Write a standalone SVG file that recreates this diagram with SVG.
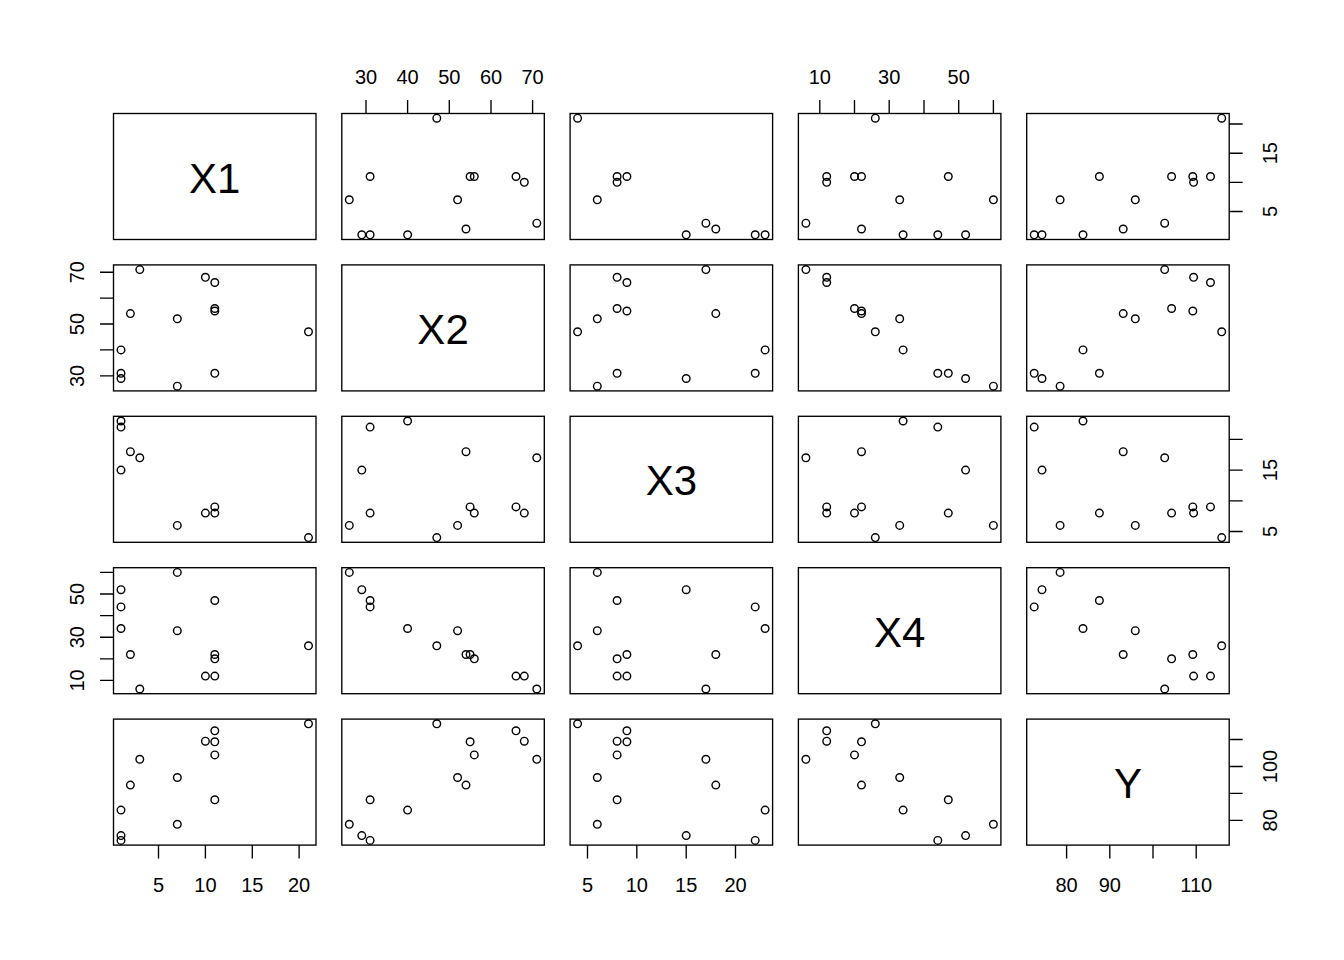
<svg xmlns="http://www.w3.org/2000/svg" width="1344" height="960" viewBox="0 0 1344 960">
<style>
.bg{fill:#fff}
.box{fill:none;stroke:#000;stroke-width:1.35}
.pt circle{fill:none;stroke:#000;stroke-width:1.4}
.tk{stroke:#000;stroke-width:1.35}
.tl{font-family:"Liberation Sans",Arial,sans-serif;font-size:20px;fill:#000;text-anchor:middle}
.dl{font-family:"Liberation Sans",Arial,sans-serif;font-size:42px;fill:#000;text-anchor:middle}
</style>
<rect class="bg" x="0" y="0" width="1344" height="960"/>

<!-- diagonal panels -->
<g id="d1" transform="translate(113.5,113.5)"><rect class="box" width="202.5" height="126"/><text class="dl" x="101.25" y="79">X1</text></g>
<g id="d2" transform="translate(341.8,264.9)"><rect class="box" width="202.5" height="126"/><text class="dl" x="101.25" y="79">X2</text></g>
<g id="d3" transform="translate(570.1,416.3)"><rect class="box" width="202.5" height="126"/><text class="dl" x="101.25" y="79">X3</text></g>
<g id="d4" transform="translate(798.4,567.7)"><rect class="box" width="202.5" height="126"/><text class="dl" x="101.25" y="79">X4</text></g>
<g id="d5" transform="translate(1026.7,719.1)"><rect class="box" width="202.5" height="126"/><text class="dl" x="101.25" y="79">Y</text></g>

<!-- row 1 (y = X1) -->
<g id="p12" class="pt" transform="translate(341.8,113.5)"><rect class="box" width="202.5" height="126"/>
<circle cx="7.5" cy="86.3" r="3.8"/><circle cx="20" cy="121.3" r="3.8"/><circle cx="132.5" cy="63" r="3.8"/><circle cx="28.3" cy="63" r="3.8"/><circle cx="115.8" cy="86.3" r="3.8"/><circle cx="128.3" cy="63" r="3.8"/><circle cx="195" cy="109.7" r="3.8"/><circle cx="28.3" cy="121.3" r="3.8"/><circle cx="124.2" cy="115.5" r="3.8"/><circle cx="95" cy="4.7" r="3.8"/><circle cx="65.8" cy="121.3" r="3.8"/><circle cx="174.2" cy="63" r="3.8"/><circle cx="182.5" cy="68.8" r="3.8"/></g>
<g id="p13" class="pt" transform="translate(570.1,113.5)"><rect class="box" width="202.5" height="126"/>
<circle cx="27.2" cy="86.3" r="3.8"/><circle cx="116.1" cy="121.3" r="3.8"/><circle cx="47" cy="63" r="3.8"/><circle cx="56.8" cy="63" r="3.8"/><circle cx="135.8" cy="109.7" r="3.8"/><circle cx="185.1" cy="121.3" r="3.8"/><circle cx="145.7" cy="115.5" r="3.8"/><circle cx="7.5" cy="4.7" r="3.8"/><circle cx="195" cy="121.3" r="3.8"/><circle cx="47" cy="68.8" r="3.8"/></g>
<g id="p14" class="pt" transform="translate(798.4,113.5)"><rect class="box" width="202.5" height="126"/>
<circle cx="195" cy="86.3" r="3.8"/><circle cx="167.2" cy="121.3" r="3.8"/><circle cx="56.1" cy="63" r="3.8"/><circle cx="149.9" cy="63" r="3.8"/><circle cx="101.3" cy="86.3" r="3.8"/><circle cx="63.1" cy="63" r="3.8"/><circle cx="7.5" cy="109.7" r="3.8"/><circle cx="139.4" cy="121.3" r="3.8"/><circle cx="63.1" cy="115.5" r="3.8"/><circle cx="76.9" cy="4.7" r="3.8"/><circle cx="104.7" cy="121.3" r="3.8"/><circle cx="28.3" cy="63" r="3.8"/><circle cx="28.3" cy="68.8" r="3.8"/></g>
<g id="p15" class="pt" transform="translate(1026.7,113.5)"><rect class="box" width="202.5" height="126"/>
<circle cx="33.4" cy="86.3" r="3.8"/><circle cx="15.3" cy="121.3" r="3.8"/><circle cx="144.9" cy="63" r="3.8"/><circle cx="72.7" cy="63" r="3.8"/><circle cx="108.6" cy="86.3" r="3.8"/><circle cx="166.1" cy="63" r="3.8"/><circle cx="138" cy="109.7" r="3.8"/><circle cx="7.5" cy="121.3" r="3.8"/><circle cx="96.5" cy="115.5" r="3.8"/><circle cx="195" cy="4.7" r="3.8"/><circle cx="56.3" cy="121.3" r="3.8"/><circle cx="183.8" cy="63" r="3.8"/><circle cx="166.9" cy="68.8" r="3.8"/></g>

<!-- row 2 (y = X2) -->
<g id="p21" class="pt" transform="translate(113.5,264.9)"><rect class="box" width="202.5" height="126"/>
<circle cx="63.8" cy="121.3" r="3.8"/><circle cx="7.5" cy="113.6" r="3.8"/><circle cx="101.3" cy="43.6" r="3.8"/><circle cx="101.3" cy="108.4" r="3.8"/><circle cx="63.8" cy="53.9" r="3.8"/><circle cx="101.3" cy="46.1" r="3.8"/><circle cx="26.3" cy="4.7" r="3.8"/><circle cx="7.5" cy="108.4" r="3.8"/><circle cx="16.9" cy="48.7" r="3.8"/><circle cx="195" cy="66.9" r="3.8"/><circle cx="7.5" cy="85" r="3.8"/><circle cx="101.3" cy="17.6" r="3.8"/><circle cx="91.9" cy="12.4" r="3.8"/></g>
<g id="p23" class="pt" transform="translate(570.1,264.9)"><rect class="box" width="202.5" height="126"/>
<circle cx="27.2" cy="121.3" r="3.8"/><circle cx="116.1" cy="113.6" r="3.8"/><circle cx="47" cy="43.6" r="3.8"/><circle cx="47" cy="108.4" r="3.8"/><circle cx="27.2" cy="53.9" r="3.8"/><circle cx="56.8" cy="46.1" r="3.8"/><circle cx="135.8" cy="4.7" r="3.8"/><circle cx="185.1" cy="108.4" r="3.8"/><circle cx="145.7" cy="48.7" r="3.8"/><circle cx="7.5" cy="66.9" r="3.8"/><circle cx="195" cy="85" r="3.8"/><circle cx="56.8" cy="17.6" r="3.8"/><circle cx="47" cy="12.4" r="3.8"/></g>
<g id="p24" class="pt" transform="translate(798.4,264.9)"><rect class="box" width="202.5" height="126"/>
<circle cx="195" cy="121.3" r="3.8"/><circle cx="167.2" cy="113.6" r="3.8"/><circle cx="56.1" cy="43.6" r="3.8"/><circle cx="149.9" cy="108.4" r="3.8"/><circle cx="101.3" cy="53.9" r="3.8"/><circle cx="63.1" cy="46.1" r="3.8"/><circle cx="7.5" cy="4.7" r="3.8"/><circle cx="139.4" cy="108.4" r="3.8"/><circle cx="63.1" cy="48.7" r="3.8"/><circle cx="76.9" cy="66.9" r="3.8"/><circle cx="104.7" cy="85" r="3.8"/><circle cx="28.3" cy="17.6" r="3.8"/><circle cx="28.3" cy="12.4" r="3.8"/></g>
<g id="p25" class="pt" transform="translate(1026.7,264.9)"><rect class="box" width="202.5" height="126"/>
<circle cx="33.4" cy="121.3" r="3.8"/><circle cx="15.3" cy="113.6" r="3.8"/><circle cx="144.9" cy="43.6" r="3.8"/><circle cx="72.7" cy="108.4" r="3.8"/><circle cx="108.6" cy="53.9" r="3.8"/><circle cx="166.1" cy="46.1" r="3.8"/><circle cx="138" cy="4.7" r="3.8"/><circle cx="7.5" cy="108.4" r="3.8"/><circle cx="96.5" cy="48.7" r="3.8"/><circle cx="195" cy="66.9" r="3.8"/><circle cx="56.3" cy="85" r="3.8"/><circle cx="183.8" cy="17.6" r="3.8"/><circle cx="166.9" cy="12.4" r="3.8"/></g>

<!-- row 3 (y = X3) -->
<g id="p31" class="pt" transform="translate(113.5,416.3)"><rect class="box" width="202.5" height="126"/>
<circle cx="63.8" cy="109.1" r="3.8"/><circle cx="7.5" cy="53.8" r="3.8"/><circle cx="101.3" cy="96.8" r="3.8"/><circle cx="101.3" cy="90.6" r="3.8"/><circle cx="26.3" cy="41.5" r="3.8"/><circle cx="7.5" cy="10.8" r="3.8"/><circle cx="16.9" cy="35.4" r="3.8"/><circle cx="195" cy="121.3" r="3.8"/><circle cx="7.5" cy="4.7" r="3.8"/><circle cx="91.9" cy="96.8" r="3.8"/></g>
<g id="p32" class="pt" transform="translate(341.8,416.3)"><rect class="box" width="202.5" height="126"/>
<circle cx="7.5" cy="109.1" r="3.8"/><circle cx="20" cy="53.8" r="3.8"/><circle cx="132.5" cy="96.8" r="3.8"/><circle cx="28.3" cy="96.8" r="3.8"/><circle cx="115.8" cy="109.1" r="3.8"/><circle cx="128.3" cy="90.6" r="3.8"/><circle cx="195" cy="41.5" r="3.8"/><circle cx="28.3" cy="10.8" r="3.8"/><circle cx="124.2" cy="35.4" r="3.8"/><circle cx="95" cy="121.3" r="3.8"/><circle cx="65.8" cy="4.7" r="3.8"/><circle cx="174.2" cy="90.6" r="3.8"/><circle cx="182.5" cy="96.8" r="3.8"/></g>
<g id="p34" class="pt" transform="translate(798.4,416.3)"><rect class="box" width="202.5" height="126"/>
<circle cx="195" cy="109.1" r="3.8"/><circle cx="167.2" cy="53.8" r="3.8"/><circle cx="56.1" cy="96.8" r="3.8"/><circle cx="149.9" cy="96.8" r="3.8"/><circle cx="101.3" cy="109.1" r="3.8"/><circle cx="63.1" cy="90.6" r="3.8"/><circle cx="7.5" cy="41.5" r="3.8"/><circle cx="139.4" cy="10.8" r="3.8"/><circle cx="63.1" cy="35.4" r="3.8"/><circle cx="76.9" cy="121.3" r="3.8"/><circle cx="104.7" cy="4.7" r="3.8"/><circle cx="28.3" cy="90.6" r="3.8"/><circle cx="28.3" cy="96.8" r="3.8"/></g>
<g id="p35" class="pt" transform="translate(1026.7,416.3)"><rect class="box" width="202.5" height="126"/>
<circle cx="33.4" cy="109.1" r="3.8"/><circle cx="15.3" cy="53.8" r="3.8"/><circle cx="144.9" cy="96.8" r="3.8"/><circle cx="72.7" cy="96.8" r="3.8"/><circle cx="108.6" cy="109.1" r="3.8"/><circle cx="166.1" cy="90.6" r="3.8"/><circle cx="138" cy="41.5" r="3.8"/><circle cx="7.5" cy="10.8" r="3.8"/><circle cx="96.5" cy="35.4" r="3.8"/><circle cx="195" cy="121.3" r="3.8"/><circle cx="56.3" cy="4.7" r="3.8"/><circle cx="183.8" cy="90.6" r="3.8"/><circle cx="166.9" cy="96.8" r="3.8"/></g>

<!-- row 4 (y = X4) -->
<g id="p41" class="pt" transform="translate(113.5,567.7)"><rect class="box" width="202.5" height="126"/>
<circle cx="63.8" cy="4.7" r="3.8"/><circle cx="7.5" cy="22" r="3.8"/><circle cx="101.3" cy="91.1" r="3.8"/><circle cx="101.3" cy="32.8" r="3.8"/><circle cx="63.8" cy="63" r="3.8"/><circle cx="101.3" cy="86.8" r="3.8"/><circle cx="26.3" cy="121.3" r="3.8"/><circle cx="7.5" cy="39.2" r="3.8"/><circle cx="16.9" cy="86.8" r="3.8"/><circle cx="195" cy="78.1" r="3.8"/><circle cx="7.5" cy="60.8" r="3.8"/><circle cx="101.3" cy="108.4" r="3.8"/><circle cx="91.9" cy="108.4" r="3.8"/></g>
<g id="p42" class="pt" transform="translate(341.8,567.7)"><rect class="box" width="202.5" height="126"/>
<circle cx="7.5" cy="4.7" r="3.8"/><circle cx="20" cy="22" r="3.8"/><circle cx="132.5" cy="91.1" r="3.8"/><circle cx="28.3" cy="32.8" r="3.8"/><circle cx="115.8" cy="63" r="3.8"/><circle cx="128.3" cy="86.8" r="3.8"/><circle cx="195" cy="121.3" r="3.8"/><circle cx="28.3" cy="39.2" r="3.8"/><circle cx="124.2" cy="86.8" r="3.8"/><circle cx="95" cy="78.1" r="3.8"/><circle cx="65.8" cy="60.8" r="3.8"/><circle cx="174.2" cy="108.4" r="3.8"/><circle cx="182.5" cy="108.4" r="3.8"/></g>
<g id="p43" class="pt" transform="translate(570.1,567.7)"><rect class="box" width="202.5" height="126"/>
<circle cx="27.2" cy="4.7" r="3.8"/><circle cx="116.1" cy="22" r="3.8"/><circle cx="47" cy="91.1" r="3.8"/><circle cx="47" cy="32.8" r="3.8"/><circle cx="27.2" cy="63" r="3.8"/><circle cx="56.8" cy="86.8" r="3.8"/><circle cx="135.8" cy="121.3" r="3.8"/><circle cx="185.1" cy="39.2" r="3.8"/><circle cx="145.7" cy="86.8" r="3.8"/><circle cx="7.5" cy="78.1" r="3.8"/><circle cx="195" cy="60.8" r="3.8"/><circle cx="56.8" cy="108.4" r="3.8"/><circle cx="47" cy="108.4" r="3.8"/></g>
<g id="p45" class="pt" transform="translate(1026.7,567.7)"><rect class="box" width="202.5" height="126"/>
<circle cx="33.4" cy="4.7" r="3.8"/><circle cx="15.3" cy="22" r="3.8"/><circle cx="144.9" cy="91.1" r="3.8"/><circle cx="72.7" cy="32.8" r="3.8"/><circle cx="108.6" cy="63" r="3.8"/><circle cx="166.1" cy="86.8" r="3.8"/><circle cx="138" cy="121.3" r="3.8"/><circle cx="7.5" cy="39.2" r="3.8"/><circle cx="96.5" cy="86.8" r="3.8"/><circle cx="195" cy="78.1" r="3.8"/><circle cx="56.3" cy="60.8" r="3.8"/><circle cx="183.8" cy="108.4" r="3.8"/><circle cx="166.9" cy="108.4" r="3.8"/></g>

<!-- row 5 (y = Y) -->
<g id="p51" class="pt" transform="translate(113.5,719.1)"><rect class="box" width="202.5" height="126"/>
<circle cx="63.8" cy="105.2" r="3.8"/><circle cx="7.5" cy="116.5" r="3.8"/><circle cx="101.3" cy="35.8" r="3.8"/><circle cx="101.3" cy="80.7" r="3.8"/><circle cx="63.8" cy="58.4" r="3.8"/><circle cx="101.3" cy="22.7" r="3.8"/><circle cx="26.3" cy="40.2" r="3.8"/><circle cx="7.5" cy="121.3" r="3.8"/><circle cx="16.9" cy="66" r="3.8"/><circle cx="195" cy="4.7" r="3.8"/><circle cx="7.5" cy="91" r="3.8"/><circle cx="101.3" cy="11.7" r="3.8"/><circle cx="91.9" cy="22.1" r="3.8"/></g>
<g id="p52" class="pt" transform="translate(341.8,719.1)"><rect class="box" width="202.5" height="126"/>
<circle cx="7.5" cy="105.2" r="3.8"/><circle cx="20" cy="116.5" r="3.8"/><circle cx="132.5" cy="35.8" r="3.8"/><circle cx="28.3" cy="80.7" r="3.8"/><circle cx="115.8" cy="58.4" r="3.8"/><circle cx="128.3" cy="22.7" r="3.8"/><circle cx="195" cy="40.2" r="3.8"/><circle cx="28.3" cy="121.3" r="3.8"/><circle cx="124.2" cy="66" r="3.8"/><circle cx="95" cy="4.7" r="3.8"/><circle cx="65.8" cy="91" r="3.8"/><circle cx="174.2" cy="11.7" r="3.8"/><circle cx="182.5" cy="22.1" r="3.8"/></g>
<g id="p53" class="pt" transform="translate(570.1,719.1)"><rect class="box" width="202.5" height="126"/>
<circle cx="27.2" cy="105.2" r="3.8"/><circle cx="116.1" cy="116.5" r="3.8"/><circle cx="47" cy="35.8" r="3.8"/><circle cx="47" cy="80.7" r="3.8"/><circle cx="27.2" cy="58.4" r="3.8"/><circle cx="56.8" cy="22.7" r="3.8"/><circle cx="135.8" cy="40.2" r="3.8"/><circle cx="185.1" cy="121.3" r="3.8"/><circle cx="145.7" cy="66" r="3.8"/><circle cx="7.5" cy="4.7" r="3.8"/><circle cx="195" cy="91" r="3.8"/><circle cx="56.8" cy="11.7" r="3.8"/><circle cx="47" cy="22.1" r="3.8"/></g>
<g id="p54" class="pt" transform="translate(798.4,719.1)"><rect class="box" width="202.5" height="126"/>
<circle cx="195" cy="105.2" r="3.8"/><circle cx="167.2" cy="116.5" r="3.8"/><circle cx="56.1" cy="35.8" r="3.8"/><circle cx="149.9" cy="80.7" r="3.8"/><circle cx="101.3" cy="58.4" r="3.8"/><circle cx="63.1" cy="22.7" r="3.8"/><circle cx="7.5" cy="40.2" r="3.8"/><circle cx="139.4" cy="121.3" r="3.8"/><circle cx="63.1" cy="66" r="3.8"/><circle cx="76.9" cy="4.7" r="3.8"/><circle cx="104.7" cy="91" r="3.8"/><circle cx="28.3" cy="11.7" r="3.8"/><circle cx="28.3" cy="22.1" r="3.8"/></g>

<!-- axes -->
<g id="axes">
<path class="tk" d="M158.5,845.1v13.5M205.4,845.1v13.5M252.3,845.1v13.5M299.1,845.1v13.5
M587.5,845.1v13.5M636.8,845.1v13.5M686.2,845.1v13.5M735.5,845.1v13.5
M1066.6,845.1v13.5M1109.8,845.1v13.5M1153,845.1v13.5M1196.2,845.1v13.5
M366,113.5v-13.5M407.6,113.5v-13.5M449.3,113.5v-13.5M491,113.5v-13.5M532.6,113.5v-13.5
M819.8,113.5v-13.5M854.5,113.5v-13.5M889.2,113.5v-13.5M924,113.5v-13.5M958.7,113.5v-13.5M993.4,113.5v-13.5
M113.5,375.9h-13.5M113.5,349.9h-13.5M113.5,324h-13.5M113.5,298.1h-13.5M113.5,272.2h-13.5
M113.5,680.4h-13.5M113.5,658.8h-13.5M113.5,637.2h-13.5M113.5,615.6h-13.5M113.5,594h-13.5M113.5,572.4h-13.5
M1229.2,211.5h13.5M1229.2,182.3h13.5M1229.2,153.2h13.5M1229.2,124h13.5
M1229.2,531.5h13.5M1229.2,500.8h13.5M1229.2,470.1h13.5M1229.2,439.3h13.5
M1229.2,820.3h13.5M1229.2,793.4h13.5M1229.2,766.5h13.5M1229.2,739.5h13.5"/>
<text class="tl" x="158.5" y="892">5</text><text class="tl" x="205.4" y="892">10</text><text class="tl" x="252.3" y="892">15</text><text class="tl" x="299.1" y="892">20</text>
<text class="tl" x="587.5" y="892">5</text><text class="tl" x="636.8" y="892">10</text><text class="tl" x="686.2" y="892">15</text><text class="tl" x="735.5" y="892">20</text>
<text class="tl" x="1066.6" y="892">80</text><text class="tl" x="1109.8" y="892">90</text><text class="tl" x="1196.2" y="892">110</text>
<text class="tl" x="366" y="84">30</text><text class="tl" x="407.6" y="84">40</text><text class="tl" x="449.3" y="84">50</text><text class="tl" x="491" y="84">60</text><text class="tl" x="532.6" y="84">70</text>
<text class="tl" x="819.8" y="84">10</text><text class="tl" x="889.2" y="84">30</text><text class="tl" x="958.7" y="84">50</text>
<text class="tl" transform="translate(83.5,375.9) rotate(-90)">30</text><text class="tl" transform="translate(83.5,324) rotate(-90)">50</text><text class="tl" transform="translate(83.5,272.2) rotate(-90)">70</text>
<text class="tl" transform="translate(83.5,680.4) rotate(-90)">10</text><text class="tl" transform="translate(83.5,637.2) rotate(-90)">30</text><text class="tl" transform="translate(83.5,594) rotate(-90)">50</text>
<text class="tl" transform="translate(1276.5,211.5) rotate(-90)">5</text><text class="tl" transform="translate(1276.5,153.2) rotate(-90)">15</text>
<text class="tl" transform="translate(1276.5,531.5) rotate(-90)">5</text><text class="tl" transform="translate(1276.5,470.1) rotate(-90)">15</text>
<text class="tl" transform="translate(1276.5,820.3) rotate(-90)">80</text><text class="tl" transform="translate(1276.5,766.5) rotate(-90)">100</text>
</g>
</svg>
